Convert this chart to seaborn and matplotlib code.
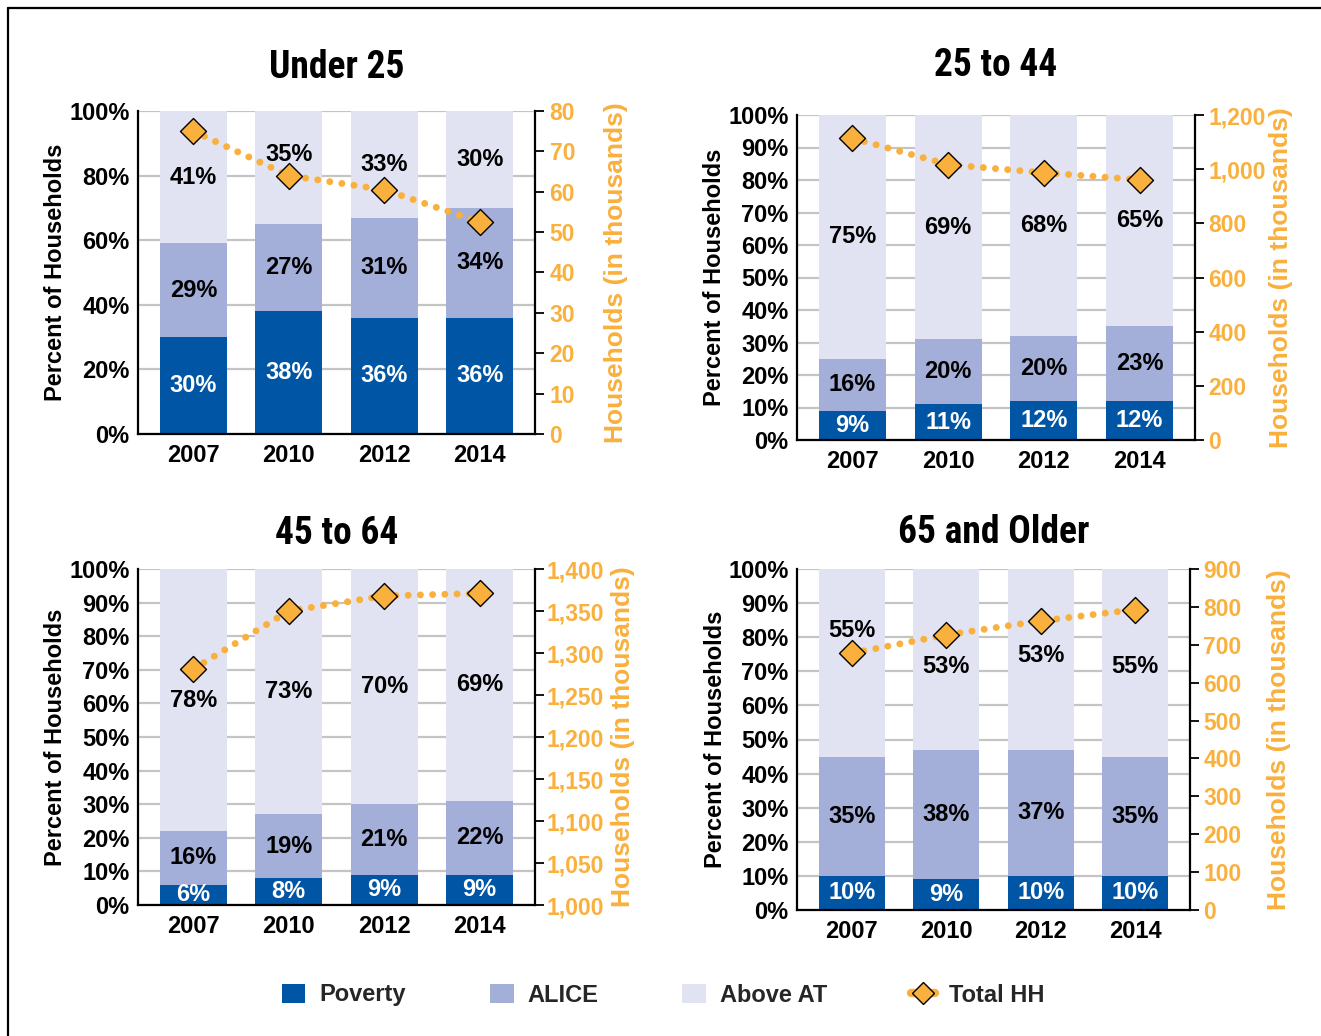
import numpy as np
import pandas as pd
import matplotlib
matplotlib.use("Agg")
import matplotlib.pyplot as plt
import seaborn as sns
from matplotlib.patches import Patch
from matplotlib.lines import Line2D
from matplotlib.ticker import FuncFormatter, MultipleLocator
from matplotlib import font_manager

# ---------------- data ----------------
years = ["2007", "2010", "2012", "2014"]
panel_titles = ["Under 25", "25 to 44", "45 to 64", "65 and Older"]
series_names = ["Poverty", "ALICE", "Above AT", "Total HH"]

poverty_u25 = [30, 38, 36, 36]
alice_u25 = [29, 27, 31, 34]
above_u25 = [41, 35, 33, 30]
total_hh_u25 = [75, 64, 60.5, 52.5]

poverty_25_44 = [9, 11, 12, 12]
alice_25_44 = [16, 20, 20, 23]
above_25_44 = [75, 69, 68, 65]
total_hh_25_44 = [1114, 1017, 987, 961]

poverty_45_64 = [6, 8, 9, 9]
alice_45_64 = [16, 19, 21, 22]
above_45_64 = [78, 73, 70, 69]
total_hh_45_64 = [1281, 1350, 1368, 1371]

poverty_65 = [10, 9, 10, 10]
alice_65 = [35, 38, 37, 35]
above_65 = [55, 53, 53, 55]
total_hh_65 = [678, 726, 763, 793]

panels = [
    (poverty_u25, alice_u25, above_u25, total_hh_u25),
    (poverty_25_44, alice_25_44, above_25_44, total_hh_25_44),
    (poverty_45_64, alice_45_64, above_45_64, total_hh_45_64),
    (poverty_65, alice_65, above_65, total_hh_65),
]

# ---------------- style ----------------
C_POV = "#0055A4"
C_ALICE = "#A3AED9"
C_ABOVE = "#E1E3F2"
ORANGE = "#F9B03D"
GRID = "#C4C4C4"

sns.set_theme(style="white")
plt.rcParams["font.family"] = ["Liberation Sans", "DejaVu Sans"]
plt.rcParams["font.weight"] = "bold"
plt.rcParams["axes.labelweight"] = "bold"

installed = {f.name for f in font_manager.fontManager.ttflist}
TITLE_FAMILY = [f for f in ["Roboto Condensed", "Liberation Sans Narrow", "Open Sans Condensed",
                            "DejaVu Sans Condensed", "DejaVu Sans"] if f in installed] or ["DejaVu Sans"]

W, H = 1321, 1036
# (left, right, top, bottom) in pixels
boxes = [(138, 535, 111, 434), (797, 1195, 115, 440),
         (138, 535, 569, 905), (797, 1190, 569, 910)]
title_baselines = [78, 76, 544, 543]
left_steps = [20, 10, 10, 10]
right_lims = [(0, 80), (0, 1200), (1000, 1400), (0, 900)]
right_steps = [10, 200, 50, 100]
right_label_x = [1.204, 1.216, 1.222, 1.226]
right_pad = [4, 3, 1.5, 3]
# nudges for "Above AT" labels (percentage points) to avoid markers
above_nudge = [[0, 4, 0, 0], [0, 0, 0, 0], [0, 0, 0, 0], [9.5, -2, 1, -1]]

fig = plt.figure(figsize=(W / 100, H / 100), dpi=100)

for i, (pov, ali, abv, hh) in enumerate(panels):
    l, r, t, b = boxes[i]
    ax = fig.add_axes([l / W, 1 - b / H, (r - l) / W, (b - t) / H])
    df = pd.DataFrame({"year": years, "poverty": pov, "alice": ali, "above": abv})
    df["pa"] = df["poverty"] + df["alice"]
    df["all"] = df["pa"] + df["above"]

    for col, c in [("all", C_ABOVE), ("pa", C_ALICE), ("poverty", C_POV)]:
        sns.barplot(data=df, x="year", y=col, color=c, saturation=1, width=0.7,
                    errorbar=None, linewidth=0, ax=ax)

    # segment labels
    for j in range(len(years)):
        p, a, o = pov[j], ali[j], abv[j]
        ax.text(j, p / 2, f"{p}%", ha="center", va="center", color="white",
                fontsize=17, fontweight="bold", zorder=5)
        ax.text(j, p + a / 2, f"{a}%", ha="center", va="center", color="black",
                fontsize=17, fontweight="bold", zorder=5)
        ax.text(j, p + a + o / 2 + above_nudge[i][j], f"{o}%", ha="center",
                va="center", color="black", fontsize=17, fontweight="bold", zorder=5)

    ax.set_ylim(0, 100)
    ax.yaxis.set_major_locator(MultipleLocator(left_steps[i]))
    ax.yaxis.set_major_formatter(FuncFormatter(lambda v, _: f"{v:.0f}%"))
    ax.yaxis.grid(True, color=GRID, linewidth=1.6)
    ax.set_axisbelow(True)
    ax.set_xlabel("")
    ax.set_ylabel("Percent of Households", fontsize=17, fontweight="bold", color="black")
    ax.yaxis.set_label_coords(-0.208, 0.5)
    ax.yaxis.label.set_verticalalignment("center")
    ax.tick_params(axis="y", length=0, pad=6, labelsize=17, labelcolor="black")
    ax.tick_params(axis="x", length=0, pad=7, labelsize=17, labelcolor="black")
    for s in ["top", "right"]:
        ax.spines[s].set_visible(False)
    for s in ["left", "bottom"]:
        ax.spines[s].set_color("black")
        ax.spines[s].set_linewidth(1.6)

    ax2 = ax.twinx()
    xs = np.arange(len(years))
    sns.lineplot(x=xs, y=hh, ax=ax2, color=ORANGE, linewidth=5.0,
                 linestyle=(0, (0.01, 1.75)), dash_capstyle="round", zorder=3)
    sns.scatterplot(x=xs, y=hh, ax=ax2, marker="D", s=175, color=ORANGE,
                    edgecolor="black", linewidth=1.0, zorder=4)
    ax2.set_ylim(*right_lims[i])
    ax2.yaxis.set_major_locator(MultipleLocator(right_steps[i]))
    ax2.yaxis.set_major_formatter(FuncFormatter(lambda v, _: f"{v:,.0f}"))
    ax2.tick_params(axis="y", length=6.5, width=1.3, direction="out", color="black",
                    pad=right_pad[i], labelsize=16.5, labelcolor=ORANGE)
    ax2.set_ylabel("Households (in thousands)", fontsize=19, fontweight="bold", color=ORANGE)
    ax2.yaxis.set_label_coords(right_label_x[i], 0.5)
    ax2.yaxis.label.set_verticalalignment("center")
    for s in ["top", "left", "bottom"]:
        ax2.spines[s].set_visible(False)
    ax2.spines["right"].set_color("black")
    ax2.spines["right"].set_linewidth(1.6)
    ax.set_xlim(-0.58, 3.58)

    fig.text(((l + r) / 2) / W, 1 - title_baselines[i] / H, panel_titles[i],
             ha="center", va="baseline", fontsize=27, fontweight="bold",
             fontstretch="condensed", family=TITLE_FAMILY, color="black")

# frame lines (top and left)
fig.add_artist(Line2D([8 / W, 1], [1 - 8 / H, 1 - 8 / H], color="black", linewidth=1.6))
fig.add_artist(Line2D([8 / W, 8 / W], [0, 1 - 8 / H], color="black", linewidth=1.6))

handles = [
    Patch(facecolor=C_POV, edgecolor="none"),
    Patch(facecolor=C_ALICE, edgecolor="none"),
    Patch(facecolor=C_ABOVE, edgecolor="none"),
    Line2D([], [], color=ORANGE, linewidth=6, solid_capstyle="round", marker="D",
           markersize=11, markerfacecolor=ORANGE, markeredgecolor="black",
           markeredgewidth=1.0),
]
fig.legend(handles, series_names, loc="center", bbox_to_anchor=(0.502, 1 - 995 / H),
           ncol=4, frameon=False, fontsize=17, handlelength=1.0, handleheight=0.9,
           handletextpad=0.6, columnspacing=3.55, numpoints=1)

fig.savefig("out.png", dpi=100)
